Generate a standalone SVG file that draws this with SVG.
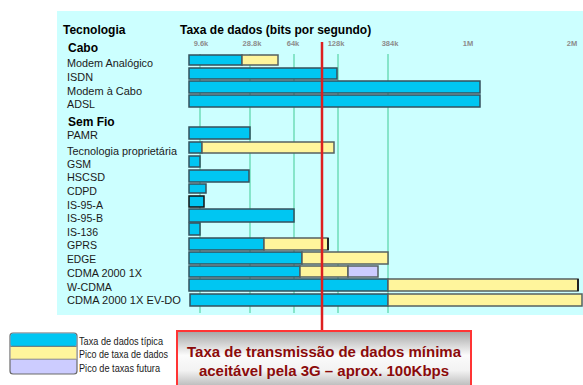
<svg xmlns="http://www.w3.org/2000/svg" width="583" height="385" viewBox="0 0 583 385">
<defs>
<linearGradient id="boxg" x1="0" y1="0" x2="0" y2="1">
<stop offset="0" stop-color="#a4a4a4"/>
<stop offset="0.38" stop-color="#fbfbfb"/>
<stop offset="0.62" stop-color="#f2f2f2"/>
<stop offset="1" stop-color="#9c9c9c"/>
</linearGradient>
</defs>
<style>
.lbl{font-family:"Liberation Sans",Arial,sans-serif;font-size:11.5px;fill:#1a1a1a}
.hdr{font-family:"Liberation Sans",Arial,sans-serif;font-size:12px;font-weight:bold;fill:#000}
.tick{font-family:"Liberation Sans",Arial,sans-serif;font-size:7.5px;font-weight:bold;fill:#8c8c8c;text-anchor:middle}
.grid{stroke:#6fdcb8;stroke-width:1.5}
.b{fill:#00c6f2;stroke:#34505c;stroke-width:1.5}
.y{fill:#fff59c;stroke:#566060;stroke-width:1.5}
.v{fill:#ccccff;stroke:#566060;stroke-width:1.5}
.leg{font-family:"Liberation Sans",Arial,sans-serif;font-size:10px;fill:#1a1a1a}
.box{font-family:"Liberation Sans",Arial,sans-serif;font-size:15px;font-weight:bold;fill:#8b0a0a;text-anchor:middle}
</style>
<rect x="0" y="0" width="583" height="385" fill="#ffffff"/>
<rect x="57" y="11" width="526" height="304" fill="#ccffff"/>
<g id="axis">
<text class="hdr" x="63" y="34">Tecnologia</text>
<text class="hdr" x="180" y="34">Taxa de dados (bits por segundo)</text>
<text class="tick" x="201" y="46">9.6k</text>
<text class="tick" x="252" y="46">28.8k</text>
<text class="tick" x="293" y="46">64k</text>
<text class="tick" x="336" y="46">128k</text>
<text class="tick" x="390" y="46">384k</text>
<text class="tick" x="468" y="46">1M</text>
<text class="tick" x="572" y="46">2M</text>
<line class="grid" x1="200" y1="54" x2="200" y2="313"/>
<line class="grid" x1="250" y1="54" x2="250" y2="313"/>
<line class="grid" x1="294" y1="54" x2="294" y2="313"/>
<line class="grid" x1="338" y1="54" x2="338" y2="313"/>
<line class="grid" x1="388" y1="54" x2="388" y2="313"/>
<text class="hdr" x="68" y="52">Cabo</text>
<text class="hdr" x="68" y="126">Sem Fio</text>
</g>
<g id="modem-analogico"><text class="lbl" x="67" y="67" textLength="86" lengthAdjust="spacingAndGlyphs">Modem Analógico</text><rect class="b" x="189" y="55" width="53" height="10"/><rect class="y" x="242" y="55" width="36" height="10"/></g>
<g id="isdn"><text class="lbl" x="67" y="81" textLength="26" lengthAdjust="spacingAndGlyphs">ISDN</text><rect class="b" x="189" y="68" width="148" height="11"/></g>
<g id="modem-cabo"><text class="lbl" x="67" y="95" textLength="75" lengthAdjust="spacingAndGlyphs">Modem à Cabo</text><rect class="b" x="189" y="81" width="291" height="12"/></g>
<g id="adsl"><text class="lbl" x="67" y="108" textLength="28" lengthAdjust="spacingAndGlyphs">ADSL</text><rect class="b" x="189" y="95" width="291" height="12"/></g>
<g id="pamr"><text class="lbl" x="67" y="139" textLength="31" lengthAdjust="spacingAndGlyphs">PAMR</text><rect class="b" x="189" y="127" width="61" height="12"/></g>
<g id="tec-proprietaria"><text class="lbl" x="67" y="155" textLength="110" lengthAdjust="spacingAndGlyphs">Tecnologia proprietária</text><rect class="b" x="189" y="142" width="13" height="11"/><rect class="y" x="202" y="142" width="132" height="11"/></g>
<g id="gsm"><text class="lbl" x="67" y="168" textLength="24" lengthAdjust="spacingAndGlyphs">GSM</text><rect class="b" x="189" y="156" width="11" height="11"/></g>
<g id="hscsd"><text class="lbl" x="67" y="181" textLength="38" lengthAdjust="spacingAndGlyphs">HSCSD</text><rect class="b" x="189" y="170" width="60" height="12"/></g>
<g id="cdpd"><text class="lbl" x="67" y="195" textLength="30" lengthAdjust="spacingAndGlyphs">CDPD</text><rect class="b" x="189" y="184" width="17" height="9"/></g>
<g id="is-95-a"><text class="lbl" x="67" y="209" textLength="36" lengthAdjust="spacingAndGlyphs">IS-95-A</text><rect class="b" x="189" y="196" width="15" height="11" style="stroke:#111"/></g>
<g id="is-95-b"><text class="lbl" x="67" y="222" textLength="36" lengthAdjust="spacingAndGlyphs">IS-95-B</text><rect class="b" x="189" y="209" width="105" height="13"/></g>
<g id="is-136"><text class="lbl" x="67" y="236" textLength="31" lengthAdjust="spacingAndGlyphs">IS-136</text><rect class="b" x="189" y="223" width="11" height="12"/></g>
<g id="gprs"><text class="lbl" x="67" y="249" textLength="30" lengthAdjust="spacingAndGlyphs">GPRS</text><rect class="b" x="189" y="238" width="75" height="12"/><rect class="y" x="264" y="238" width="64" height="12"/><line x1="328" y1="238" x2="328" y2="250" stroke="#222" stroke-width="2"/></g>
<g id="edge"><text class="lbl" x="67" y="263" textLength="29" lengthAdjust="spacingAndGlyphs">EDGE</text><rect class="b" x="189" y="252" width="113" height="12"/><rect class="y" x="302" y="252" width="86" height="12"/></g>
<g id="cdma2000-1x"><text class="lbl" x="67" y="277" textLength="75" lengthAdjust="spacingAndGlyphs">CDMA 2000 1X</text><rect class="b" x="189" y="266" width="111" height="11"/><rect class="y" x="300" y="266" width="48" height="11"/><rect class="v" x="348" y="266" width="30" height="11"/></g>
<g id="w-cdma"><text class="lbl" x="67" y="291" textLength="45" lengthAdjust="spacingAndGlyphs">W-CDMA</text><rect class="b" x="189" y="279" width="199" height="12"/><rect class="y" x="388" y="279" width="190" height="12"/><line x1="578" y1="279" x2="578" y2="291" stroke="#222" stroke-width="2"/></g>
<g id="cdma2000-evdo"><text class="lbl" x="67" y="304" textLength="114" lengthAdjust="spacingAndGlyphs">CDMA 2000 1X EV-DO</text><rect class="b" x="190" y="294" width="198" height="12"/><rect class="y" x="388" y="294" width="194" height="12"/></g>
<g id="legend">
<rect x="10" y="333" width="67" height="41" rx="3" fill="#ccccff" stroke="#6a6a6a" stroke-width="1.2"/>
<rect x="10.6" y="333.6" width="65.8" height="12.6" rx="2.5" fill="#00c6f2"/>
<rect x="10.6" y="346.5" width="65.8" height="12.5" fill="#fff59c"/>
<line x1="10.6" y1="346.3" x2="76.4" y2="346.3" stroke="#5a6a70" stroke-width="1"/>
<line x1="10.6" y1="359.2" x2="76.4" y2="359.2" stroke="#8a8a8a" stroke-width="1"/>
<text class="leg" x="79" y="345" textLength="84" lengthAdjust="spacingAndGlyphs">Taxa de dados típica</text>
<text class="leg" x="79" y="358" textLength="89" lengthAdjust="spacingAndGlyphs">Pico de taxa de dados</text>
<text class="leg" x="79" y="372" textLength="81" lengthAdjust="spacingAndGlyphs">Pico de taxas futura</text>
</g>
<g id="connectors">
<line x1="322" y1="42" x2="322" y2="331" stroke="#dd2020" stroke-width="2.5"/>
</g>
<g id="threshold-box">
<rect x="177" y="331" width="294" height="64" fill="url(#boxg)" stroke="#ff3434" stroke-width="2"/>
<text class="box" x="324" y="357">Taxa de transmissão de dados mínima</text>
<text class="box" x="324" y="376">aceitável pela 3G – aprox. 100Kbps</text>
</g>
</svg>
